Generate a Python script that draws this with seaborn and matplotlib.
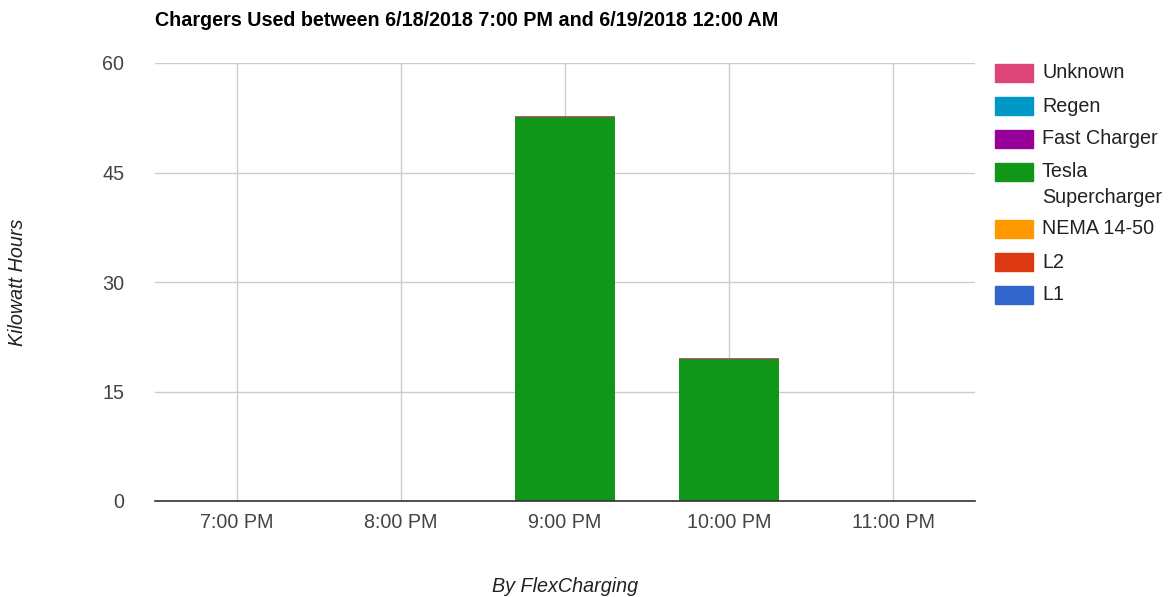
import matplotlib
matplotlib.use("Agg")
import matplotlib.pyplot as plt
from matplotlib.patches import Rectangle
import numpy as np
import pandas as pd
import seaborn as sns

# Hourly energy by charger type (kWh)
hours = ["7:00 PM", "8:00 PM", "9:00 PM", "10:00 PM", "11:00 PM"]
l1 = [0, 0, 0, 0, 0]
l2 = [0, 0, 0, 0, 0]
nema_14_50 = [0, 0, 0, 0, 0]
tesla_supercharger = [0, 0, 52.6, 19.5, 0]
fast_charger = [0, 0, 0, 0, 0]
regen = [0, 0, 0, 0, 0]
unknown = [0, 0, 0.15, 0.15, 0]

# Stack order from bottom to top
series_names = ["L1", "L2", "NEMA 14-50", "Tesla\nSupercharger", "Fast Charger", "Regen", "Unknown"]
series_values = [l1, l2, nema_14_50, tesla_supercharger, fast_charger, regen, unknown]
series_colors = ["#3366cc", "#dc3912", "#ff9900", "#109618", "#990099", "#0099c6", "#dd4477"]

sns.set_theme(style="white")
plt.rcParams["font.family"] = ["Liberation Sans", "DejaVu Sans"]

FS = 14.2

fig = plt.figure(figsize=(11.72, 5.97), dpi=100)
ax = fig.add_axes([155 / 1172, 1 - 501 / 597, 820 / 1172, 438 / 597])

# Draw cumulative totals from the top layer down so each layer shows as a stacked segment
cum = np.cumsum(np.array(series_values, dtype=float), axis=0)
for i in range(len(series_names) - 1, -1, -1):
    df = pd.DataFrame({"hour": hours, "kwh": cum[i]})
    sns.barplot(data=df, x="hour", y="kwh", color=series_colors[i], saturation=1,
                width=0.61, ax=ax, zorder=3, linewidth=0)

ax.set_xlim(-0.5, len(hours) - 0.5)
ax.set_ylim(0, 60)
ax.set_yticks([0, 15, 30, 45, 60])
ax.grid(True, axis="both", color="#cccccc", linewidth=1, zorder=0)
ax.set_axisbelow(True)
for s in ["top", "right", "left"]:
    ax.spines[s].set_visible(False)
ax.spines["bottom"].set_color("#333333")
ax.spines["bottom"].set_linewidth(1.2)
ax.spines["bottom"].set_zorder(5)
ax.tick_params(axis="both", length=0, labelsize=FS, colors="#444444")
ax.tick_params(axis="x", pad=9)
ax.tick_params(axis="y", pad=22)
ax.set_xlabel("")
ax.set_ylabel("")

fig.text(155 / 1172, 1 - 20 / 597, "Chargers Used between 6/18/2018 7:00 PM and 6/19/2018 12:00 AM",
         fontsize=FS, fontweight="bold", color="#000000", ha="left", va="center")
fig.text(565 / 1172, 1 - 586 / 597, "By FlexCharging", fontsize=FS, style="italic",
         color="#222222", ha="center", va="center")
fig.text(18 / 1172, 1 - 282 / 597, "Kilowatt Hours", fontsize=FS, style="italic",
         color="#222222", ha="center", va="center", rotation=90)

# Legend, listed top layer first
legend_rows = [73, 106, 139, 172, 229, 262, 295]
for row_y, name, color in zip(legend_rows, series_names[::-1], series_colors[::-1]):
    fig.patches.append(Rectangle((995 / 1172, 1 - (row_y + 9) / 597), 38 / 1172, 18 / 597,
                                 transform=fig.transFigure, color=color, figure=fig))
    if "\n" in name:
        fig.text(1042 / 1172, 1 - (row_y - 10) / 597, name, fontsize=FS, color="#222222",
                 ha="left", va="top", linespacing=1.45)
    else:
        fig.text(1042 / 1172, 1 - row_y / 597, name, fontsize=FS, color="#222222",
                 ha="left", va="center")

fig.savefig("out.png", dpi=100, facecolor="white")
